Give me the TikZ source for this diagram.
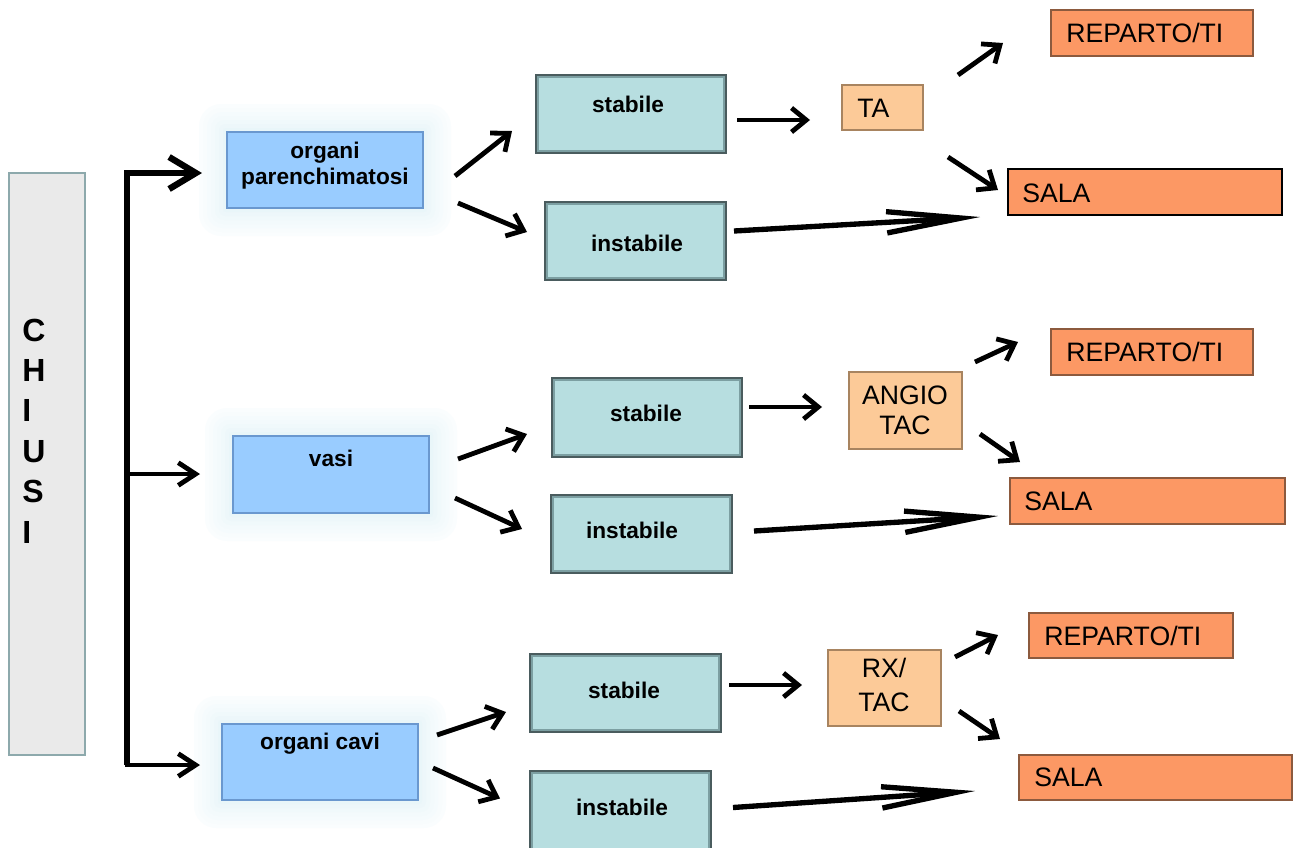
\documentclass[tikz,border=0pt]{standalone}
\usepackage{fontspec}
\setmainfont{Liberation Sans}
\usetikzlibrary{arrows.meta,calc,fit}
\definecolor{chfill}{HTML}{EAEAEA}
\definecolor{chline}{HTML}{8DA9AC}
\definecolor{bluefill}{HTML}{99CCFF}
\definecolor{blueline}{HTML}{6A98CF}
\definecolor{tealfill}{HTML}{B7DEE0}
\definecolor{tealline}{HTML}{4A5C5E}
\definecolor{tealinner}{HTML}{7C9FA2}
\definecolor{peachfill}{HTML}{FCCA98}
\definecolor{peachline}{HTML}{A88460}
\definecolor{orangefill}{HTML}{FC9864}
\definecolor{orangeline}{HTML}{8C5A3E}
\definecolor{glowbase}{HTML}{D6EEF5}
\begin{document}
\begin{tikzpicture}[x=0.75pt,y=-0.75pt,
  box/.style={inner sep=0pt, outer sep=0pt},
  chbox/.style={box, fill=chfill, draw=chline, line width=1.5pt},
  bluebox/.style={box, fill=bluefill, draw=blueline, line width=1.6pt},
  tealbox/.style={box, fill=tealfill, draw=tealline, line width=1.6pt},
  tealedge/.style={draw=tealinner, line width=1.6pt},
  peachbox/.style={box, fill=peachfill, draw=peachline, line width=1.6pt},
  orangebox/.style={box, fill=orangefill, draw=orangeline, line width=1.6pt},
  boldlbl/.style={font=\fontsize{17}{19.5}\selectfont\bfseries, align=center, inner sep=0pt},
  lbl/.style={font=\fontsize{20}{23}\selectfont, align=center, inner sep=0pt},
  arr/.style={line width=3.6pt, -{Straight Barb[length=11pt,width=18pt]}},
  longarr/.style={line width=4pt, -{Straight Barb[length=56pt,width=16pt]}},
  bracket/.style={line width=4.5pt, line join=miter},
  bigarr/.style={line width=4.8pt, line join=miter, -{Straight Barb[length=20pt,width=24pt]}},
  midarr/.style={line width=3.6pt, -{Straight Barb[length=13pt,width=17pt]}},
]
\fill[white] (0,0) rectangle (1294,847);
\useasboundingbox (0,0) rectangle (1294,847);

% soft glows behind the blue boxes
\foreach \bx/\by/\ex/\ey in {227/132/423/208, 233/436/429/513, 222/724/418/800}{
  \foreach \d/\p in {28/12,24/18,20/24,16/30,12/37,8/45,4/55}{
    \fill[glowbase!\p!white, rounded corners=\d*0.6pt] (\bx-\d,\by-\d) rectangle (\ex+\d,\ey+\d);
  }
}

% boxes
\node[chbox, fit={(9,173)(85,755)}] (ch) {};
\node[bluebox, fit={(227,132)(423,208)}] (b1) {};
\node[bluebox, fit={(233,436)(429,513)}] (b2) {};
\node[bluebox, fit={(222,724)(418,800)}] (b3) {};
\node[tealbox, fit={(536,75)(726,153)}] (s1) {};
\node[tealbox, fit={(545,202)(726,280)}] (i1) {};
\node[tealbox, fit={(552,378)(742,457)}] (s2) {};
\node[tealbox, fit={(551,495)(732,573)}] (i2) {};
\node[tealbox, fit={(530,654)(721,732)}] (s3) {};
\node[tealbox, fit={(530,771)(711,852)}] (i3) {};
\foreach \n in {s1,i1,s2,i2,s3,i3}{
  \draw[tealedge] ($(\n.south west)+(2.2,-2.2)$) rectangle ($(\n.north east)+(-2.2,2.2)$);
}
\node[peachbox, fit={(842,85)(923,130)}] (t1) {};
\node[peachbox, fit={(849,372)(962,449)}] (t2) {};
\node[peachbox, fit={(828,650)(941,726)}] (t3) {};
\node[orangebox, fit={(1051,10)(1253,56)}] (r1) {};
\node[orangebox, draw=black, fit={(1008,169)(1282,215)}] (a1) {};
\node[orangebox, fit={(1051,329)(1253,375)}] (r2) {};
\node[orangebox, fit={(1010,478)(1285,524)}] (a2) {};
\node[orangebox, fit={(1029,613)(1233,658)}] (r3) {};
\node[orangebox, fit={(1019,755)(1292,800)}] (a3) {};

% texts
\node[font=\fontsize{24}{30.3}\selectfont\bfseries, align=left, inner sep=0pt, anchor=west] (cht) at (22,431) {C\\H\\I\\U\\S\\I};
\node[boldlbl] (b1t) at (325,166) {organi\\parenchimatosi};
\node[boldlbl] (b2t) at (331,458) {vasi};
\node[boldlbl] (b3t) at (320,744) {organi cavi};
\node[boldlbl] (s1t) at (628,104) {stabile};
\node[boldlbl] (i1t) at (637,243) {instabile};
\node[boldlbl] (s2t) at (646,413) {stabile};
\node[boldlbl] (i2t) at (632,530) {instabile};
\node[boldlbl] (s3t) at (624,690) {stabile};
\node[boldlbl] (i3t) at (622,807) {instabile};
\node[lbl, anchor=west] (t1t) at (857,108) {TA};
\node[lbl, font=\fontsize{20}{22.5}\selectfont] (t2t) at (905,410) {ANGIO\\TAC};
\node[lbl, font=\fontsize{20}{25.5}\selectfont] (t3t) at (884,685) {RX/\\TAC};
\node[lbl, anchor=west] (r1t) at (1066,33) {REPARTO/TI};
\node[lbl, anchor=west] (a1t) at (1022,193) {SALA};
\node[lbl, anchor=west] (r2t) at (1066,352) {REPARTO/TI};
\node[lbl, anchor=west] (a2t) at (1024,501) {SALA};
\node[lbl, anchor=west] (r3t) at (1044,636) {REPARTO/TI};
\node[lbl, anchor=west] (a3t) at (1034,777) {SALA};

% bracket
\coordinate (bt) at (127,173);
\coordinate (bm) at (127,474);
\coordinate (bb) at (127,765);
\draw[bigarr] (bb) -- (bt) -- ($(bt -| b1.west)+(-25,0)$);
\draw[midarr] (bm) -- ($(bm -| b2.west)+(-33,0)$);
\draw[bracket, midarr] (bt) -- (bb) -- ($(bb -| b3.west)+(-22,0)$);

% arrows, group 1
\draw[arr] ($(b1.east)+(32,6)$) -- ($(s1.west)+(-24,17)$);
\draw[arr] ($(b1.east)+(35,33)$) -- ($(i1.west)+(-18,-9)$);
\draw[arr] ($(s1.east)+(11,6)$) -- ($(t1.west)+(-32,12.5)$);
\draw[arr] ($(t1.east)+(35,-32.5)$) -- ($(r1.west)+(-48,10)$);
\draw[arr] ($(t1.east)+(25,49.5)$) -- ($(a1.west)+(-10,-2)$);
\draw[longarr] ($(i1.east)+(8,-10)$) -- ($(a1.west)+(-28,25)$);

% group 2
\draw[arr] ($(b2.east)+(29,-15.5)$) -- ($(s2.west)+(-25,16.5)$);
\draw[arr] ($(b2.east)+(26,23.5)$) -- ($(i2.west)+(-29,-5)$);
\draw[arr] ($(s2.east)+(7,-10.5)$) -- ($(t2.west)+(-27,-3.5)$);
\draw[arr] ($(t2.east)+(13,-48.5)$) -- ($(r2.west)+(-33,-10)$);
\draw[arr] ($(t2.east)+(18,23.5)$) -- ($(a2.north west)+(10,-16)$);
\draw[longarr] ($(i2.east)+(22,-3)$) -- ($(a2.west)+(-12,15)$);

% group 3
\draw[arr] ($(b3.east)+(19,-27)$) -- ($(s3.west)+(-24,19)$);
\draw[arr] ($(b3.east)+(15,6)$) -- ($(i3.west)+(-30,-13)$);
\draw[arr] ($(s3.east)+(8,-8)$) -- ($(t3.west)+(-26,-3)$);
\draw[arr] ($(t3.east)+(14,-31)$) -- ($(r3.west)+(-31,-0.5)$);
\draw[arr] ($(t3.east)+(18,23)$) -- ($(a3.north west)+(-19,-16)$);
\draw[longarr] ($(i3.east)+(22,-4)$) -- ($(a3.west)+(-44,13.5)$);
\end{tikzpicture}
\end{document}
